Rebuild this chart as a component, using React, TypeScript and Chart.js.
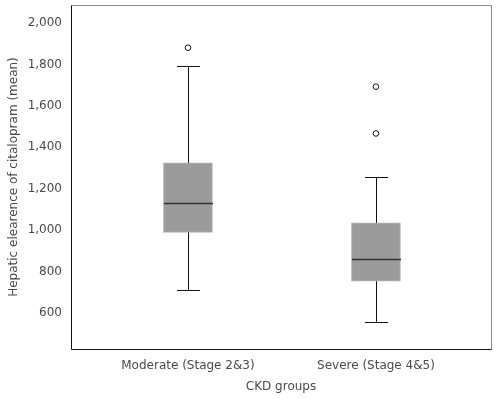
import React, { useEffect, useRef } from "react";
import { Chart, registerables } from "chart.js";

Chart.register(...registerables);

const categories = ["Moderate (Stage 2&3)", "Severe (Stage 4&5)"];
const positions = [1, 2];
const whiskerLow = [712, 558];
const q1 = [990, 754];
const median = [1132, 861];
const q3 = [1325, 1036];
const whiskerHigh = [1793, 1256];
const outlierX = [1, 2, 2];
const outlierY = [1881, 1693, 1467];
const yTicks = [600, 800, 1000, 1200, 1400, 1600, 1800, 2000];

const FONT = "'DejaVu Sans', sans-serif";

const boxPlugin = {
  id: "boxExtras",
  afterDatasetsDraw(chart: any) {
    const { ctx, scales, chartArea } = chart;
    const x = scales.x;
    const y = scales.y;
    ctx.save();
    positions.forEach((p, i) => {
      const cx = Math.round(x.getPixelForValue(p)) + 0.5;
      const capHalf = 11.5;
      ctx.strokeStyle = "#111";
      ctx.lineWidth = 1;
      ctx.beginPath();
      ctx.moveTo(cx, y.getPixelForValue(q3[i]));
      ctx.lineTo(cx, y.getPixelForValue(whiskerHigh[i]));
      ctx.moveTo(cx, y.getPixelForValue(q1[i]));
      ctx.lineTo(cx, y.getPixelForValue(whiskerLow[i]));
      const th = Math.round(y.getPixelForValue(whiskerHigh[i])) + 0.5;
      const tl = Math.round(y.getPixelForValue(whiskerLow[i])) + 0.5;
      ctx.moveTo(cx - capHalf, th);
      ctx.lineTo(cx + capHalf, th);
      ctx.moveTo(cx - capHalf, tl);
      ctx.lineTo(cx + capHalf, tl);
      ctx.stroke();
      const my = Math.round(y.getPixelForValue(median[i])) + 0.5;
      ctx.strokeStyle = "#333";
      ctx.lineWidth = 1.3;
      ctx.beginPath();
      ctx.moveTo(cx - 24.5, my);
      ctx.lineTo(cx + 24.5, my);
      ctx.stroke();
    });
    const L = Math.round(chartArea.left) + 0.5;
    const T = Math.round(chartArea.top) + 0.5;
    const R = Math.round(chartArea.right) + 0.5;
    const B = Math.round(chartArea.bottom) + 0.5;
    ctx.lineWidth = 1;
    ctx.strokeStyle = "#8c8c8c";
    ctx.beginPath();
    ctx.moveTo(L, T);
    ctx.lineTo(R, T);
    ctx.lineTo(R, B);
    ctx.stroke();
    ctx.strokeStyle = "#111";
    ctx.beginPath();
    ctx.moveTo(L, T);
    ctx.lineTo(L, B);
    ctx.lineTo(R, B);
    ctx.stroke();
    ctx.restore();
  },
};

export default function App() {
  const ref = useRef<HTMLCanvasElement | null>(null);
  useEffect(() => {
    if (!ref.current) return;
    const chart = new Chart(ref.current, {
      type: "bar",
      data: {
        datasets: [
          {
            type: "bar",
            data: positions.map((p, i) => ({ x: p, y: [q1[i], q3[i]] })) as any,
            backgroundColor: "#9b9b9b",
            borderColor: "#b3b3b3",
            borderWidth: 1,
            borderSkipped: false,
            barThickness: 49,
            order: 2,
          } as any,
          {
            type: "scatter",
            data: outlierX.map((xv, i) => ({ x: xv, y: outlierY[i] })),
            pointRadius: 2.8,
            pointBackgroundColor: "#ffffff",
            pointBorderColor: "#111",
            pointBorderWidth: 1,
            order: 1,
          } as any,
        ],
      },
      options: {
        animation: false,
        responsive: false,
        maintainAspectRatio: false,
        layout: { padding: { top: 4, right: 9, left: 0, bottom: 0 } },
        plugins: { legend: { display: false }, tooltip: { enabled: false } },
        scales: {
          x: {
            type: "linear",
            offset: false,
            min: 0.378,
            max: 2.612,
            grid: { display: false, drawTicks: false },
            border: { display: false },
            afterBuildTicks: (s: any) => {
              s.ticks = positions.map((v) => ({ value: v }));
            },
            afterFit: (s: any) => {
              s.height = 50;
              s.paddingLeft = 0;
              s.paddingRight = 0;
            },
            ticks: {
              autoSkip: false,
              maxRotation: 0,
              padding: 10,
              color: "#4a4a4a",
              font: { family: FONT, size: 12 },
              callback: (v: any) => categories[positions.indexOf(Number(v))] ?? "",
            },
            title: {
              display: true,
              text: "CKD groups",
              color: "#4a4a4a",
              font: { family: FONT, size: 12 },
              padding: { top: 2, bottom: 5 },
            },
          },
          y: {
            type: "linear",
            min: 427,
            max: 2087,
            grid: { display: false, drawTicks: false },
            border: { display: false },
            afterBuildTicks: (s: any) => {
              s.ticks = yTicks.map((v) => ({ value: v }));
            },
            afterFit: (s: any) => {
              s.width = 71;
              s.paddingTop = 0;
              s.paddingBottom = 0;
            },
            ticks: {
              padding: 9,
              color: "#4a4a4a",
              font: { family: FONT, size: 12, lineHeight: 0.1 },
              callback: (v: any) => Number(v).toLocaleString("en-US"),
            },
            title: {
              display: true,
              text: "Hepatic elearence of citalopram (mean)",
              color: "#4a4a4a",
              font: { family: FONT, size: 12 },
              padding: { top: 7, bottom: 4 },
            },
          },
        },
      },
      plugins: [boxPlugin],
    } as any);
    return () => chart.destroy();
  }, []);
  return (
    <div style={{ position: "fixed", left: 0, top: 0, width: 500, height: 399, background: "#fff" }}>
      <canvas ref={ref} width={500} height={399} style={{ width: 500, height: 399 }} />
    </div>
  );
}
